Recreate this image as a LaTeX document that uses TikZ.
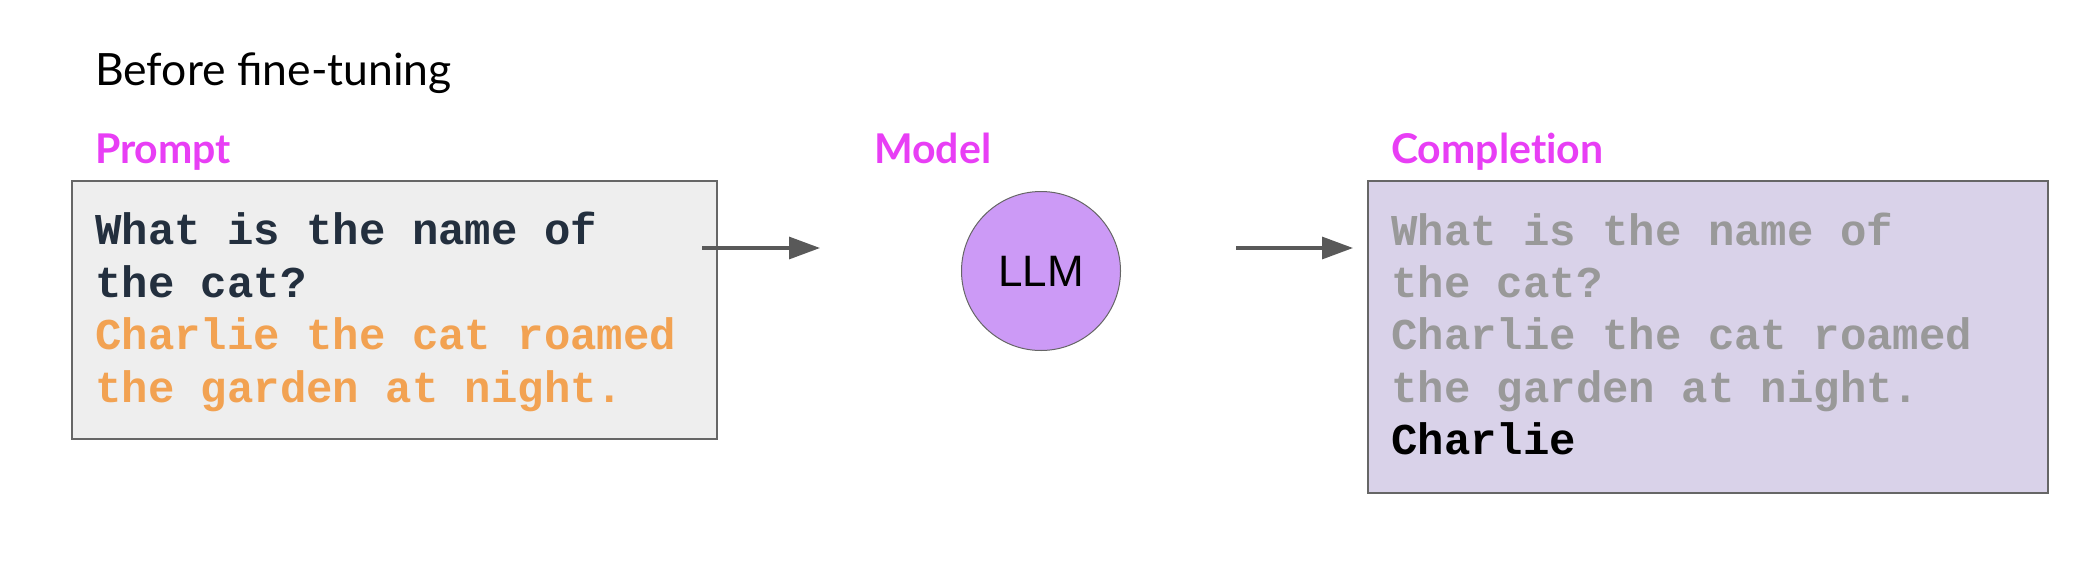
\documentclass[tikz,border=0pt]{standalone}
\usepackage{fontspec}
\setmainfont{Lato}
\newfontfamily\latob{Lato}[BoldFont={* Bold},Ligatures=NoCommon]
\newfontfamily\arialf{Liberation Sans}
\newfontfamily\courf{Liberation Mono}
\usetikzlibrary{arrows.meta}
\definecolor{magent}{HTML}{E83EF5}
\definecolor{navy}{HTML}{232F3E}
\definecolor{orng}{HTML}{F2A252}
\definecolor{grytxt}{HTML}{999999}
\definecolor{boxgray}{HTML}{EEEEEE}
\definecolor{boxlav}{HTML}{D9D2E9}
\definecolor{circfill}{HTML}{CC9AF6}
\definecolor{arrgray}{HTML}{595959}
\definecolor{edgegray}{HTML}{666666}
\begin{document}
\begin{tikzpicture}[x=1pt,y=-1pt,
  hdr/.style={anchor=base west,inner sep=0pt,text=magent,font=\latob\bfseries\fontsize{41}{46}\selectfont},
  code/.style={anchor=base west,inner sep=0pt,font=\courf\bfseries\fontsize{44}{52}\selectfont},
  panel/.style={draw=edgegray,line width=1.5pt,anchor=north west,inner sep=0pt},
  flow/.style={draw=arrgray,line width=3.2pt,-{Triangle[length=31pt,width=22pt]}}]
\useasboundingbox (0,0) rectangle (2094,560);
\node[anchor=base west,inner sep=0pt,font=\fontsize{44.5}{50}\selectfont] (title) at (95,85) {Before fine-tuning};
\node[hdr] (hprompt) at (95,163) {Prompt};
\node[hdr] (hmodel) at (874,163) {Model};
\node[hdr] (hcomp) at (1391,163) {Completion};
% prompt box
\node[panel,fill=boxgray,minimum width=645pt,minimum height=258pt] (prompt) at (71,180) {};
\node[code,text=navy] (p1) at (95,244) {What is the name of};
\node[code,text=navy] (p2) at (95,297) {the cat?};
\node[code,text=orng] (p3) at (95,349) {Charlie the cat roamed};
\node[code,text=orng] (p4) at (95,402) {the garden at night.};
% model
\node[circle,draw=edgegray,line width=1pt,fill=circfill,minimum size=159pt,inner sep=0pt,font=\arialf\fontsize{44}{48}\selectfont] (llm) at (1041,271) {LLM};
% completion box
\node[panel,fill=boxlav,minimum width=680pt,minimum height=312pt] (comp) at (1367,180) {};
\node[code,text=grytxt] (c1) at (1391,245) {What is the name of};
\node[code,text=grytxt] (c2) at (1391,297) {the cat?};
\node[code,text=grytxt] (c3) at (1391,349) {Charlie the cat roamed};
\node[code,text=grytxt] (c4) at (1391,402) {the garden at night.};
\node[code,text=black] (c5) at (1391,454) {Charlie};
% arrows
\coordinate (a1s) at (702,248);
\coordinate (a1e) at (820,248);
\coordinate (a2s) at (1236,248);
\coordinate (a2e) at (1353,248);
\draw[flow] (a1s) -- (a1e);
\draw[flow] (a2s) -- (a2e);
\end{tikzpicture}
\end{document}
